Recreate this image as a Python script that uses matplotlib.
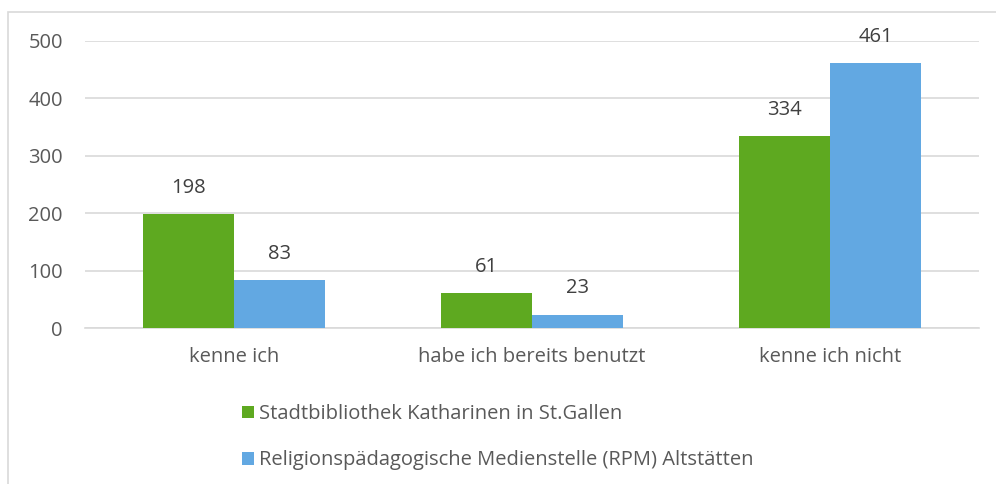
import numpy as np
import matplotlib
matplotlib.use("Agg")
import matplotlib.pyplot as plt
from matplotlib.patches import Rectangle

# Daten
kategorien = ["kenne ich", "habe ich bereits benutzt", "kenne ich nicht"]
stadtbibliothek = [198, 61, 334]
rpm = [83, 23, 461]
serien_namen = ["Stadtbibliothek Katharinen in St.Gallen",
                "Religionspädagogische Medienstelle (RPM) Altstätten"]

gruen = "#5EA920"
blau = "#62A8E2"
textfarbe = "#595959"
fs = 14.5

plt.rcParams["font.family"] = ["Open Sans", "DejaVu Sans"]

fig = plt.figure(figsize=(9.96, 4.84), dpi=100)
ax = fig.add_axes([85 / 996, 1 - 328 / 484, 894 / 996, 287 / 484])

x = np.arange(len(kategorien))
b = 0.305
b1 = ax.bar(x - b / 2, stadtbibliothek, b, color=gruen, label=serien_namen[0], zorder=3)
b2 = ax.bar(x + b / 2, rpm, b, color=blau, label=serien_namen[1], zorder=3)

# Werte über den Balken
for bars in (b1, b2):
    for r in bars:
        ax.annotate(str(int(r.get_height())), (r.get_x() + r.get_width() / 2, r.get_height()),
                    xytext=(0, 19), textcoords="offset points", ha="center", va="center",
                    fontsize=fs, color="#404040", zorder=4)

ax.set_xlim(-0.5, 2.5)
ax.set_ylim(0, 500)
ax.set_yticks(range(0, 501, 100))
ax.set_xticks(x)
ax.set_xticklabels(kategorien)
ax.tick_params(axis="both", length=0, labelsize=fs, labelcolor=textfarbe)
ax.tick_params(axis="x", pad=14)
ax.tick_params(axis="y", pad=16)
ax.grid(axis="y", color="#D9D9D9", linewidth=1.2, zorder=0)
for s in ["top", "right", "left"]:
    ax.spines[s].set_visible(False)
ax.spines["bottom"].set_color("#D9D9D9")
ax.spines["bottom"].set_linewidth(1.2)

fig.legend(handles=[b1, b2], loc="upper left", bbox_to_anchor=(224 / 996, 1 - 386 / 484),
           frameon=False, fontsize=fs, labelcolor=textfarbe, handlelength=0.6,
           handleheight=0.6, handletextpad=0.25, labelspacing=1.3)

# Rahmen
fig.patches.append(Rectangle((8 / 996, -0.05), 1.2, 1 - 12 / 484 + 0.05,
                             transform=fig.transFigure, fill=False,
                             edgecolor="#D9D9D9", linewidth=1.2))

fig.savefig("out.png", dpi=100)
